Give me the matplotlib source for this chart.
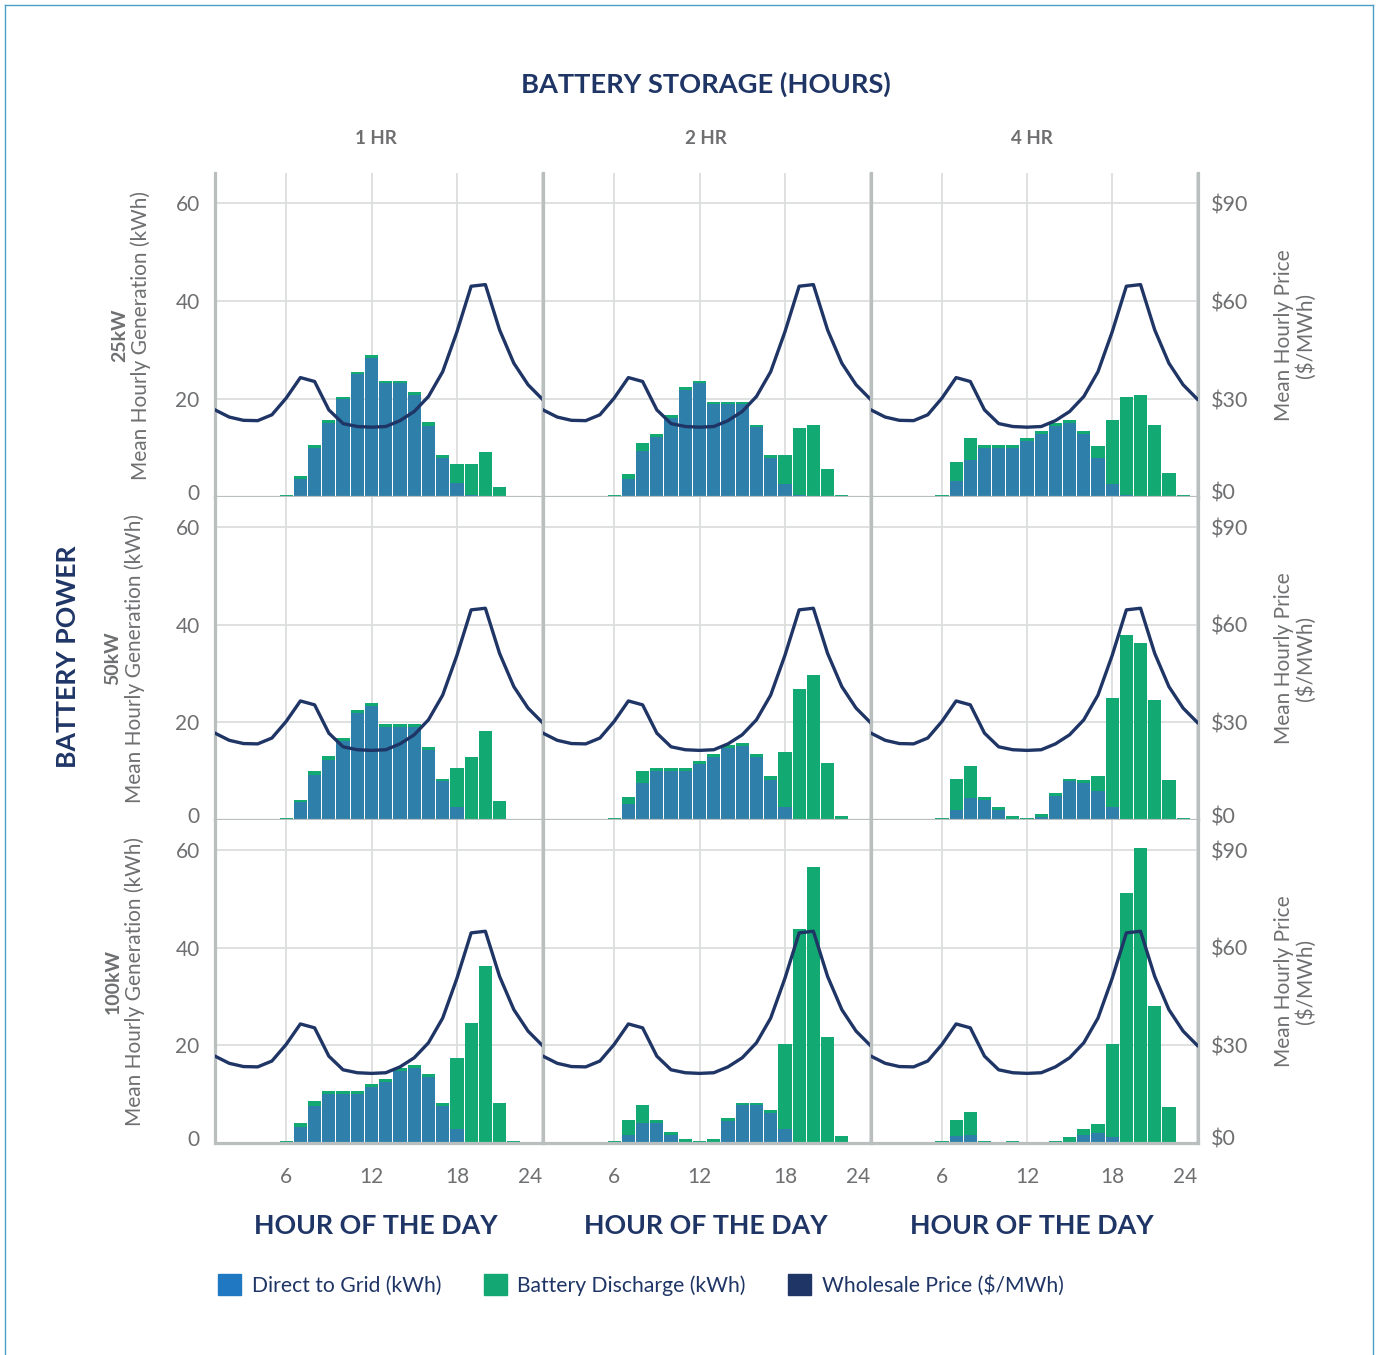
import matplotlib
matplotlib.use("Agg")
import matplotlib.pyplot as plt
from matplotlib.patches import Patch
from matplotlib.lines import Line2D
from matplotlib.transforms import ScaledTranslation

plt.rcParams['font.family'] = ['Lato', 'DejaVu Sans']

# hours of the day
price_hours = list(range(1, 25))
bar_hours = list(range(6, 24))

# mean hourly wholesale price ($/MWh), same in every panel
price = [26.7, 24.5, 23.5, 23.4, 25.2, 30.3, 36.6, 35.4, 26.7, 22.5, 21.6, 21.4,
         21.6, 23.4, 26.2, 30.8, 38.4, 50.6, 64.6, 65.1, 51.2, 41.0, 34.4, 30.0]

# generation (kWh), hours 6..23 -- direct to grid / battery discharge
direct_25_1 = [0, 3.6, 10.0, 15.1, 20.0, 25.1, 28.5, 23.2, 23.2, 20.8, 14.6, 7.9, 2.9, 0.5, 0, 0, 0, 0]
disch_25_1 = [0.5, 0.7, 0.6, 0.6, 0.5, 0.5, 0.6, 0.6, 0.6, 0.6, 0.7, 0.6, 3.8, 6.2, 9.2, 2.0, 0, 0]
direct_25_2 = [0, 3.7, 9.4, 12.2, 16.1, 21.8, 23.2, 18.9, 18.9, 18.9, 14.3, 7.9, 2.6, 0.5, 0, 0, 0, 0]
disch_25_2 = [0.4, 1.0, 1.6, 0.6, 0.6, 0.6, 0.6, 0.6, 0.6, 0.6, 0.5, 0.6, 5.9, 13.7, 14.8, 5.7, 0.4, 0]
direct_25_4 = [0, 3.3, 7.5, 10.0, 10.0, 10.0, 11.4, 12.8, 14.6, 15.1, 12.8, 7.9, 2.6, 0.5, 0, 0, 0, 0]
disch_25_4 = [0.4, 3.8, 4.5, 0.6, 0.6, 0.6, 0.6, 0.6, 0.5, 0.6, 0.6, 2.5, 13.1, 20.0, 20.9, 14.8, 4.9, 0.4]

direct_50_1 = [0, 3.6, 9.3, 12.3, 16.2, 21.9, 23.4, 19.0, 19.0, 19.0, 14.4, 7.9, 2.7, 0.3, 0, 0, 0, 0]
disch_50_1 = [0.5, 0.6, 0.7, 0.8, 0.6, 0.6, 0.6, 0.7, 0.7, 0.7, 0.5, 0.6, 7.9, 12.6, 18.2, 3.8, 0, 0]
direct_50_2 = [0, 3.2, 7.5, 10.0, 10.0, 10.0, 11.4, 12.9, 14.7, 15.1, 12.9, 8.1, 2.7, 0.3, 0, 0, 0, 0]
disch_50_2 = [0.5, 1.6, 2.5, 0.6, 0.6, 0.6, 0.6, 0.6, 0.6, 0.6, 0.6, 1.0, 11.2, 26.6, 29.8, 11.6, 0.9, 0]
direct_50_4 = [0, 2.1, 4.6, 4.2, 2.1, 0.3, 0, 0.7, 5.0, 7.9, 7.5, 6.0, 2.7, 0.3, 0, 0, 0, 0]
disch_50_4 = [0.5, 6.4, 6.4, 0.6, 0.6, 0.6, 0.5, 0.6, 0.6, 0.6, 0.6, 3.1, 22.3, 37.7, 36.2, 24.6, 8.1, 0.5]

direct_100_1 = [0, 3.2, 7.5, 10.0, 10.0, 10.0, 11.4, 12.5, 14.8, 15.4, 13.5, 7.5, 2.8, 0.3, 0, 0, 0, 0]
disch_100_1 = [0.5, 1.0, 1.1, 0.6, 0.6, 0.6, 0.7, 0.6, 0.6, 0.6, 0.6, 0.6, 14.6, 24.2, 36.3, 8.1, 0.5, 0]
direct_100_2 = [0, 1.7, 4.2, 4.2, 1.7, 0.3, 0, 0.3, 4.6, 7.7, 7.7, 6.1, 2.8, 0.3, 0, 0, 0, 0]
disch_100_2 = [0.5, 3.1, 3.5, 0.6, 0.6, 0.6, 0.5, 0.6, 0.6, 0.6, 0.6, 0.6, 17.5, 43.6, 56.6, 21.8, 1.5, 0]
direct_100_4 = [0, 1.4, 1.7, 0, 0, 0, 0, 0, 0, 0.3, 1.7, 2.1, 1.3, 0.3, 0, 0, 0, 0]
disch_100_4 = [0.5, 3.4, 4.6, 0.5, 0, 0.5, 0, 0, 0.5, 1.0, 1.1, 1.7, 19.0, 50.9, 60.5, 28.0, 7.3, 0]

row_labels = ['25kW', '50kW', '100kW']
col_labels = ['1 HR', '2 HR', '4 HR']
gen_ticks = [0, 20, 40, 60]
price_ticks = [0, 30, 60, 90]
hour_ticks = [6, 12, 18, 24]

panels = [[(direct_25_1, disch_25_1), (direct_25_2, disch_25_2), (direct_25_4, disch_25_4)],
          [(direct_50_1, disch_50_1), (direct_50_2, disch_50_2), (direct_50_4, disch_50_4)],
          [(direct_100_1, disch_100_1), (direct_100_2, disch_100_2), (direct_100_4, disch_100_4)]]

BLUE = '#2E80AB'
GREEN = '#12A972'
NAVY = '#1F3566'
GRAY_TXT = '#6E6F71'
SPINE = '#B9BEBE'
GRID = '#DCDEDE'

W, H = 1380, 1355
fig = plt.figure(figsize=(W / 100, H / 100), dpi=100)

def fx(px):
    return px / W

def fy(py):
    return 1 - py / H

col_x = [215, 543, 871, 1198]
row_y = [173, 497, 820, 1143]
col_mid = [376, 706, 1032]
YMAX = 66.2
lift = ScaledTranslation(0, 5 / 100, fig.dpi_scale_trans)

for r in range(3):
    for c in range(3):
        x0, x1 = col_x[c], col_x[c + 1]
        y0, y1 = row_y[r], row_y[r + 1]
        ax = fig.add_axes([fx(x0), fy(y1), (x1 - x0) / W, (y1 - y0) / H])
        direct, disch = panels[r][c]
        ax.bar(bar_hours, direct, width=0.93, color=BLUE, linewidth=0, zorder=2)
        ax.bar(bar_hours, disch, bottom=direct, width=0.93, color=GREEN, linewidth=0, zorder=2)
        ax.set_xlim(1, 24.05)
        ax.set_ylim(0, YMAX)
        ax.set_yticks(gen_ticks)
        ax.set_xticks(hour_ticks)
        ax.grid(True, color=GRID, linewidth=1.3, zorder=0)
        ax.set_axisbelow(True)
        for s in ['top', 'right']:
            ax.spines[s].set_visible(False)
        ax.spines['left'].set_color(SPINE)
        ax.spines['left'].set_linewidth(2.3)
        ax.spines['bottom'].set_color(SPINE)
        ax.spines['bottom'].set_linewidth(2.3)
        ax.tick_params(length=0, labelsize=15, labelcolor=GRAY_TXT)
        ax.tick_params(axis='y', pad=11)
        ax.tick_params(axis='x', pad=17)
        if c != 0:
            ax.set_yticklabels([])
        else:
            ax.set_yticklabels([str(t) for t in gen_ticks])
            lab0 = ax.get_yticklabels()[0]
            lab0.set_transform(lab0.get_transform() + lift)
        if r != 2:
            ax.set_xticklabels([])
        else:
            ax.set_xticklabels([str(h) for h in hour_ticks])
            ax.get_xticklabels()[-1].set_ha('right')

        ax2 = ax.twinx()
        ax2.plot(price_hours, price, color=NAVY, linewidth=2.4, zorder=5)
        ax2.set_ylim(0, YMAX * 1.5)
        ax2.set_yticks(price_ticks)
        ax2.tick_params(length=0, labelsize=15.5, labelcolor=GRAY_TXT, pad=9)
        for s in ['top', 'left', 'bottom']:
            ax2.spines[s].set_visible(False)
        if c == 2:
            ax2.spines['right'].set_color(SPINE)
            ax2.spines['right'].set_linewidth(2.3)
            ax2.set_yticklabels(['$' + str(p) for p in price_ticks])
            lab0 = ax2.get_yticklabels()[0]
            lab0.set_transform(lab0.get_transform() + lift)
        else:
            ax2.spines['right'].set_visible(False)
            ax2.set_yticklabels([])

        yc = (y0 + y1) / 2
        if c == 0:
            kx = 120 if r == 0 else 113
            mx = 141 if r == 0 else 135
            fig.text(fx(kx), fy(yc), row_labels[r], rotation=90, ha='center', va='center',
                     fontsize=14, fontweight='bold', color=GRAY_TXT)
            fig.text(fx(mx), fy(yc), 'Mean Hourly Generation (kWh)', rotation=90,
                     ha='center', va='center', fontsize=15, color=GRAY_TXT)
        if c == 2:
            fig.text(fx(1284), fy(yc), 'Mean Hourly Price', rotation=90, ha='center',
                     va='center', fontsize=15, color=GRAY_TXT)
            fig.text(fx(1306), fy(yc), '($/MWh)', rotation=90, ha='center',
                     va='center', fontsize=15, color=GRAY_TXT)
        if r == 0:
            fig.text(fx(col_mid[c]), fy(138), col_labels[c], ha='center', va='center',
                     fontsize=13.5, fontweight='bold', color=GRAY_TXT)
        if r == 2:
            fig.text(fx(col_mid[c]), fy(1226), 'HOUR OF THE DAY', ha='center', va='center',
                     fontsize=19.3, fontweight='bold', color=NAVY)

fig.text(fx(706), fy(84), 'BATTERY STORAGE (HOURS)', ha='center', va='center',
         fontsize=19.6, fontweight='bold', color=NAVY)
fig.text(fx(68), fy(657), 'BATTERY POWER', rotation=90, ha='center', va='center',
         fontsize=19.2, fontweight='bold', color=NAVY)

handles = [Patch(color='#1F78C1'), Patch(color='#13A873'), Patch(color=NAVY)]
labels = ['Direct to Grid (kWh)', 'Battery Discharge (kWh)', 'Wholesale Price ($/MWh)']
fig.legend(handles, labels, loc='center', bbox_to_anchor=(fx(641), fy(1285)), ncol=3,
           frameon=False, fontsize=15.2, labelcolor=NAVY, handlelength=1.1, handleheight=1.1,
           handletextpad=0.5, columnspacing=2.0)

# thin frame around the figure
border = '#4A9FC6'
fig.add_artist(Line2D([fx(5), fx(5)], [0, fy(5)], color=border, linewidth=1))
fig.add_artist(Line2D([fx(5), fx(1373)], [fy(5), fy(5)], color=border, linewidth=1))
fig.add_artist(Line2D([fx(1373), fx(1373)], [0, fy(5)], color=border, linewidth=1))

fig.savefig('out.png', dpi=100)
